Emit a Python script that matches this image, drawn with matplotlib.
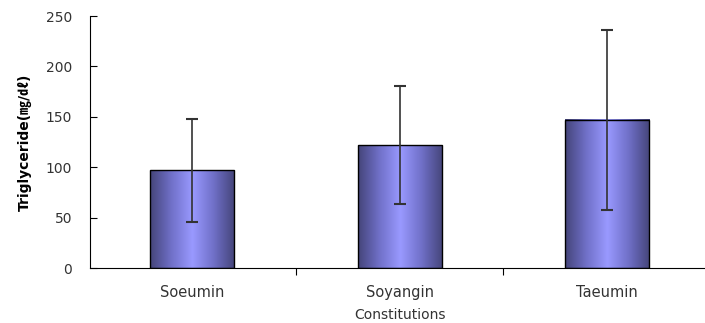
import numpy as np
from matplotlib import pyplot as plt
from matplotlib.colors import LinearSegmentedColormap

groups = ['Soeumin', 'Soyangin', 'Taeumin']
means = [97, 122, 147]
sds = [51, 59, 89]

plt.rcParams['font.family'] = ['DejaVu Sans', 'Noto Sans CJK KR']

fig = plt.figure(figsize=(7.05, 3.23), dpi=100)
ax = fig.add_axes([90/705, 55/323, 615/705, 252/323])

# gradient: dark at edges, light in the middle
cmap = LinearSegmentedColormap.from_list('bar', ['#45457a', '#7070c8', '#9999ff', '#7070c8', '#45457a'])
grad = np.linspace(0, 1, 200).reshape(1, -1)
w = 0.405
x = np.arange(len(groups))
for xi, m in zip(x, means):
    ax.imshow(grad, cmap=cmap, aspect='auto', extent=(xi - w/2, xi + w/2, 0, m), zorder=1)
ax.bar(x, means, width=w, facecolor='none', edgecolor='black', linewidth=1, zorder=2)
ax.errorbar(x, means, yerr=sds, fmt='none', ecolor='#333333', elinewidth=1.2, capsize=4.5, capthick=1.5, zorder=3)

ax.set_xlim(-0.49, 2.47)
ax.set_ylim(0, 250)
ax.spines['top'].set_visible(False)
ax.spines['right'].set_visible(False)
ax.set_yticks(np.arange(0, 251, 50))
ax.tick_params(axis='y', direction='in', length=5, pad=13, labelsize=10, labelcolor='#333333')
ax.set_xticks(x[:-1] + 0.5)
ax.set_xticklabels([])
ax.tick_params(axis='x', direction='out', length=5)
for xi, g in zip(x, groups):
    ax.text(xi, -17, g, ha='center', va='top', fontsize=10.5, color='#333333')
ax.text(0.5 * (x[0] + x[-1]), -40, 'Constitutions', ha='center', va='top', fontsize=10, color='#333333')
ax.set_ylabel('Triglyceride(㎎/㎗)', fontsize=10, fontweight='bold', labelpad=10)

fig.savefig('out.png', dpi=100)
